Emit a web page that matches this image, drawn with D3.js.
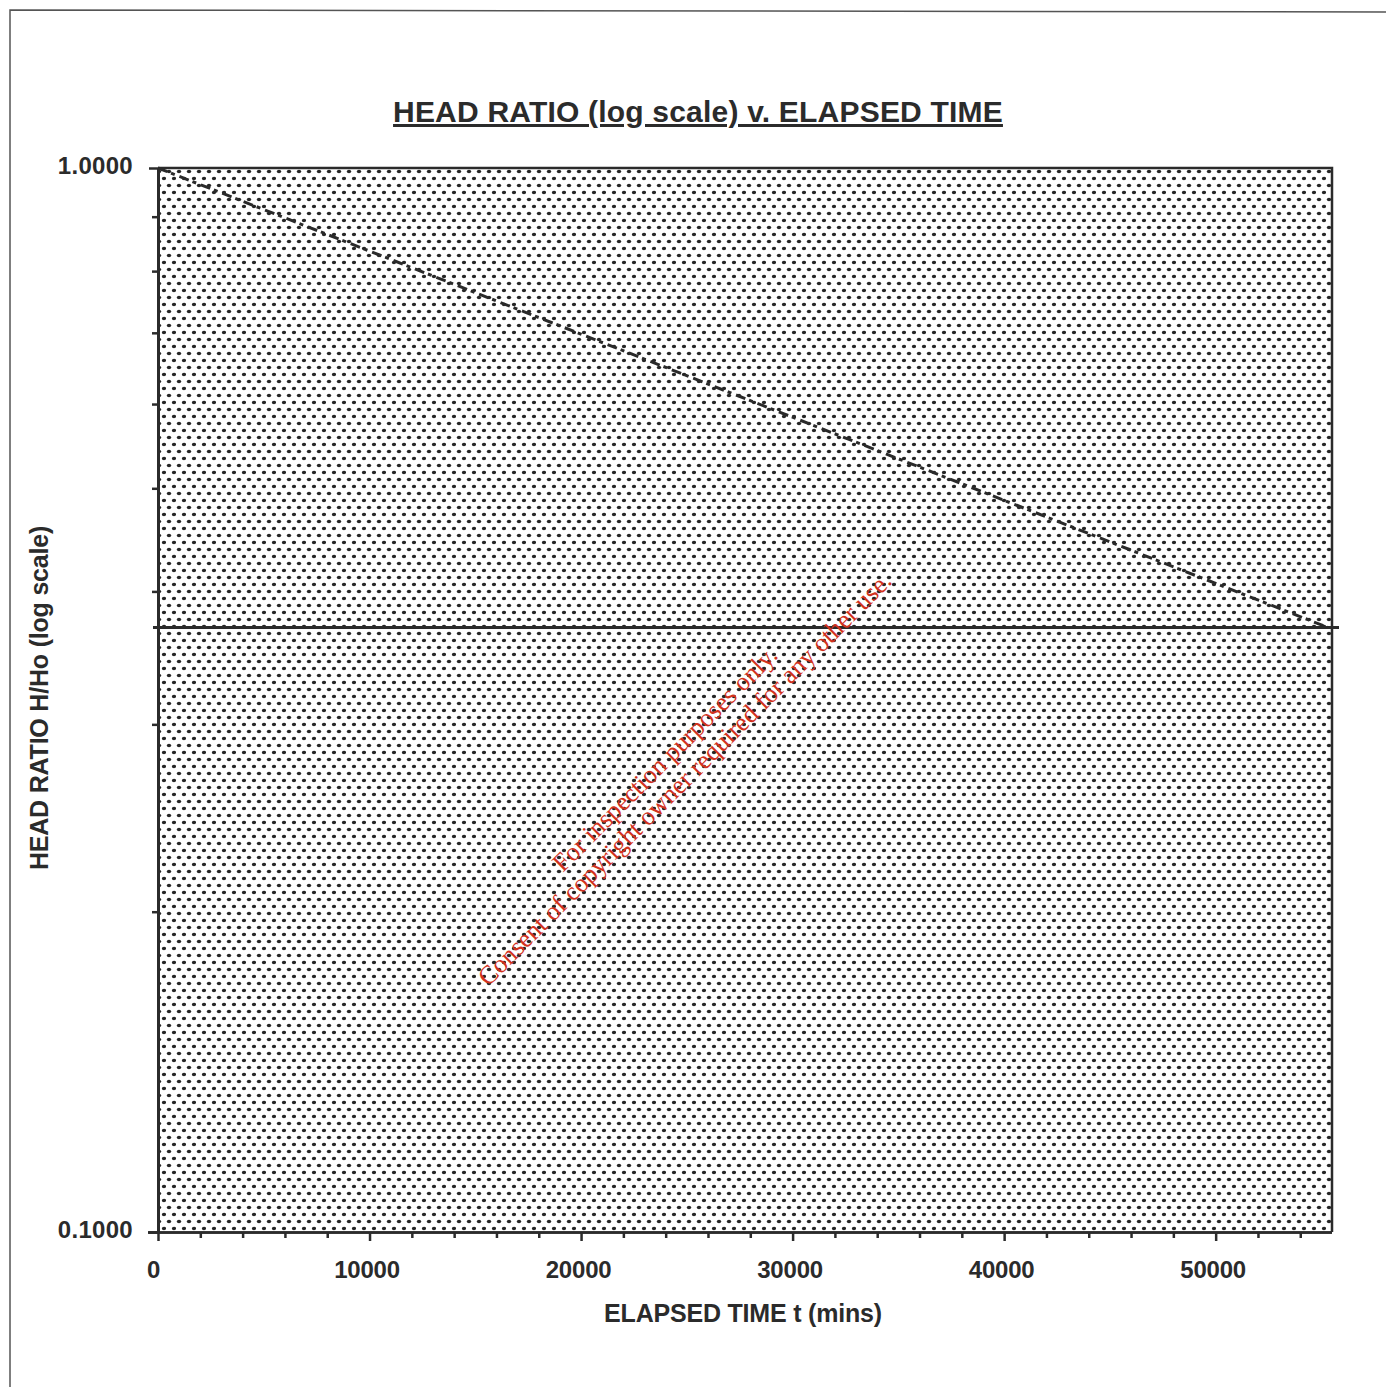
<!DOCTYPE html>
<html>
<head>
<meta charset="utf-8">
<script src="https://cdn.jsdelivr.net/npm/d3@7"></script>
<style>
  html, body { margin: 0; padding: 0; background: #ffffff; }
  svg { display: block; }
</style>
</head>
<body>
<script>
// ---- Data ----
const elapsedTime = [0, 55300];          // t (mins)
const headRatio   = [1.0, 0.37];         // H/Ho
const referenceLevel = [0.37];           // horizontal reference line
const xMajorTicks = [0, 10000, 20000, 30000, 40000, 50000];
const xMinorTicks = [2000, 4000, 6000, 8000, 12000, 14000, 16000, 18000, 22000, 24000, 26000, 28000,
                     32000, 34000, 36000, 38000, 42000, 44000, 46000, 48000, 52000, 54000];
const yLabelTicks = [1.0, 0.1];
const yMinorTicks = [0.2, 0.3, 0.4, 0.5, 0.6, 0.7, 0.8, 0.9];
const titleText = "HEAD RATIO (log scale) v. ELAPSED TIME";
const xAxisTitle = "ELAPSED TIME t (mins)";
const yAxisTitle = "HEAD RATIO H/Ho (log scale)";
const watermark = ["For inspection purposes only.", "Consent of copyright owner required for any other use."];

// ---- Layout ----
const W = 1390, H = 1387;
const m = { left: 158, top: 168, right: 58, bottom: 155 };
const pw = W - m.left - m.right;   // 1174
const ph = H - m.top - m.bottom;   // 1064
const ink = "#2b2b2b";
const font = "'Liberation Sans', Arial, sans-serif";

const svg = d3.select("body").append("svg").attr("width", W).attr("height", H);

// outer frame (scanned page border)
svg.append("path").attr("d", `M10,${H} L10,10 L${W - 4},12`)
  .attr("fill", "none").attr("stroke", "#555").attr("stroke-width", 1.5);

const x = d3.scaleLinear().domain([0, 55500]).range([0, pw]);
const y = d3.scaleLog().domain([0.1, 1]).range([ph, 0]);

// dotted fill pattern
const defs = svg.append("defs");
const pat = defs.append("pattern").attr("id", "dots").attr("patternUnits", "userSpaceOnUse")
  .attr("width", 10).attr("height", 14).attr("x", m.left).attr("y", m.top);
pat.append("ellipse").attr("cx", 3).attr("cy", 3.5).attr("rx", 2.2).attr("ry", 1.7).attr("fill", "#262626");
pat.append("ellipse").attr("cx", 8).attr("cy", 10.5).attr("rx", 2.2).attr("ry", 1.7).attr("fill", "#262626");

const g = svg.append("g").attr("transform", `translate(${m.left},${m.top})`);

g.append("rect").attr("width", pw).attr("height", ph).attr("fill", "url(#dots)");
// top and right borders
g.append("path").attr("d", `M0,0 L${pw},0 L${pw},${ph}`).attr("fill", "none")
  .attr("stroke", ink).attr("stroke-width", 2.5);

// axes
const xAxisMajor = d3.axisBottom(x).tickValues(xMajorTicks).tickSize(9).tickFormat(d3.format("d"));
const xAxisMinor = d3.axisBottom(x).tickValues(xMinorTicks).tickSize(6).tickFormat("");
const gxMin = g.append("g").attr("transform", `translate(0,${ph})`).call(xAxisMinor);
const gx = g.append("g").attr("transform", `translate(0,${ph})`).call(xAxisMajor);
[gx, gxMin].forEach(a => {
  a.select(".domain").attr("d", `M-10,0.5H${pw}`).attr("stroke", ink).attr("stroke-width", 2.5);
  a.selectAll(".tick line").attr("stroke", ink).attr("stroke-width", 2.5);
});
gx.selectAll(".tick text").attr("dy", 0).attr("y", 46)
  .attr("font-family", font).attr("font-weight", "bold").attr("font-size", 24).attr("fill", ink)
  .attr("letter-spacing", -0.2)
  .attr("dx", d => d === 0 ? -5 : -3);

const yAxisMajor = d3.axisLeft(y).tickValues(yLabelTicks).tickSize(9).tickFormat(d3.format(".4f"));
const yAxisMinor = d3.axisLeft(y).tickValues(yMinorTicks).tickSize(6).tickFormat("");
const gyMin = g.append("g").call(yAxisMinor);
const gy = g.append("g").call(yAxisMajor);
[gy, gyMin].forEach(a => {
  a.select(".domain").attr("d", `M0.5,0V${ph}`).attr("stroke", ink).attr("stroke-width", 3);
  a.selectAll(".tick line").attr("stroke", ink).attr("stroke-width", 2.5);
});
gy.selectAll(".tick text").attr("x", -25).attr("dy", "0.22em")
  .attr("font-family", font).attr("font-weight", "bold").attr("font-size", 24).attr("fill", ink)
  .attr("letter-spacing", 0.3);

// reference horizontal line
g.selectAll(".refline").data(referenceLevel).join("line").attr("class", "refline")
  .attr("x1", -5).attr("x2", pw + 7).attr("y1", d => y(d)).attr("y2", d => y(d))
  .attr("stroke", ink).attr("stroke-width", 3);

// data line (dashed)
const pts = elapsedTime.map((t, i) => [t, headRatio[i]]);
g.append("path").datum(pts)
  .attr("d", d3.line().x(d => x(d[0])).y(d => y(d[1])))
  .attr("fill", "none").attr("stroke", "#2a2a2a").attr("stroke-width", 3)
  .attr("stroke-dasharray", "10,4,4,5");

// titles
svg.append("text").attr("x", 698).attr("y", 122).attr("text-anchor", "middle")
  .attr("font-family", font).attr("font-weight", "bold").attr("font-size", 30)
  .attr("fill", ink).attr("text-decoration", "underline").attr("letter-spacing", 0.2)
  .text(titleText);
svg.append("text").attr("x", 743).attr("y", 1322).attr("text-anchor", "middle")
  .attr("font-family", font).attr("font-weight", "bold").attr("font-size", 25)
  .attr("fill", ink).attr("letter-spacing", -0.2).text(xAxisTitle);
svg.append("text").attr("transform", "translate(48,698) rotate(-90)").attr("text-anchor", "middle")
  .attr("font-family", font).attr("font-weight", "bold").attr("font-size", 25)
  .attr("fill", ink).attr("letter-spacing", -0.2).text(yAxisTitle);

// watermark
const wm = svg.append("g").attr("transform", "translate(678,772) rotate(-45)");
wm.selectAll("text").data(watermark).join("text")
  .attr("x", 0).attr("y", (d, i) => i === 0 ? -10 : 18).attr("text-anchor", "middle")
  .attr("font-family", "'Liberation Serif', 'Times New Roman', serif").attr("font-size", 26)
  .attr("fill", "#d2321e").text(d => d);
</script>
</body>
</html>
